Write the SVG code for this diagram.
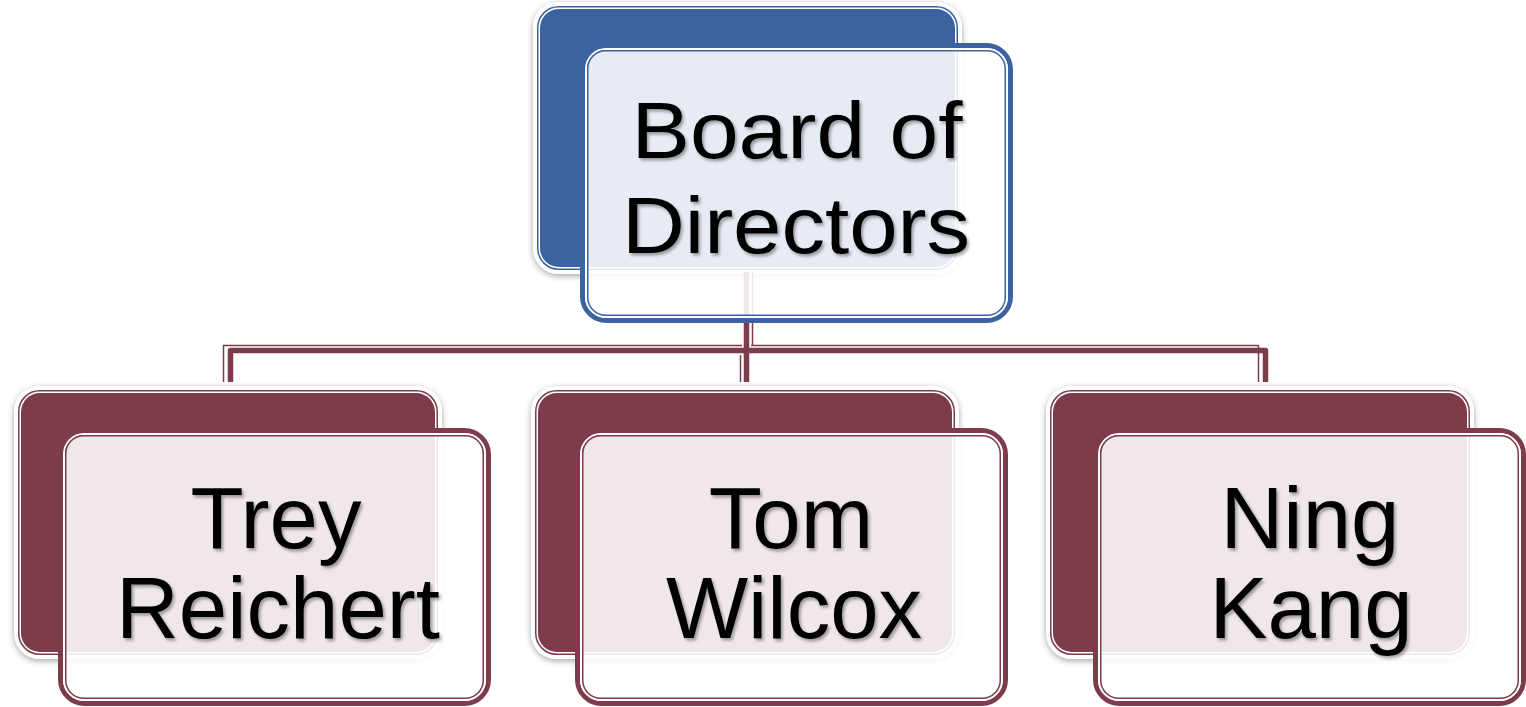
<svg xmlns="http://www.w3.org/2000/svg" width="1526" height="707" viewBox="0 0 1526 707">
<defs>
<filter id="sh" x="-10%" y="-10%" width="120%" height="125%">
<feDropShadow dx="0" dy="2" stdDeviation="3" flood-color="#000" flood-opacity="0.35"/>
</filter>
<filter id="tsh" x="-5%" y="-5%" width="110%" height="120%">
<feDropShadow dx="2" dy="2.5" stdDeviation="1.5" flood-color="#000" flood-opacity="0.35"/>
</filter>
<style>
.halo{fill:#fff;stroke:#fff;stroke-width:8}
.bl .line{fill:none;stroke:#3A63A0;stroke-width:1.5}
.bl .body{fill:#3A63A0}
.bl .thick{fill:none;stroke:#3A63A0;stroke-width:5}
.bl .thin{fill:#fff;fill-opacity:0.88;stroke:#3A63A0;stroke-width:1.5}
.mr .line{fill:none;stroke:#7C3C4A;stroke-width:1.5}
.mr .body{fill:#7C3C4A}
.mr .thick{fill:none;stroke:#7C3C4A;stroke-width:5}
.mr .thin{fill:#fff;fill-opacity:0.88;stroke:#7C3C4A;stroke-width:1.5}
.gap{fill:none;stroke:#fff;stroke-width:2}
.conn path{fill:none;stroke:#7C3C4A;stroke-linejoin:round}
.conn .ct{stroke-width:5.5}
.conn .cn{stroke-width:1.5}
text{font-family:"Liberation Sans",Arial,sans-serif;fill:#000;text-anchor:middle}
</style>
</defs>
<rect width="1526" height="707" fill="#fff"/>

<!-- top node back shape -->
<g id="board-back" class="bl">
<rect class="halo" x="537" y="6" width="421" height="264" rx="22" filter="url(#sh)"/>
<rect class="line" x="537.75" y="6.75" width="419.5" height="262.5" rx="21"/>
<rect class="body" x="540" y="9" width="415" height="258" rx="19"/>
</g>

<g id="connectors" class="conn">
<path class="ct" d="M746.5,272 V350.5"/>
<path class="cn" d="M752.5,272 V345.5"/>
<path class="ct" d="M230.5,382 V350.5 H1265.5 V382"/>
<path class="cn" d="M223.5,382 V345.5 H742"/>
<path class="cn" d="M751,345.5 H1258.5 V382"/>
<path class="ct" d="M746.5,350 V382"/>
<path class="cn" d="M740.5,355 V382"/>
</g>

<g id="board" class="bl">
<rect class="thick" x="582.5" y="45.5" width="428" height="275" rx="24"/>
<rect class="gap" x="586" y="49" width="421" height="268" rx="20"/>
<rect class="thin" x="587.75" y="50.75" width="417.5" height="264.5" rx="18"/>
<g filter="url(#tsh)">
<text x="797" y="158" font-size="79" textLength="331" lengthAdjust="spacingAndGlyphs">Board of</text>
<text x="796" y="253" font-size="79" textLength="348" lengthAdjust="spacingAndGlyphs">Directors</text>
</g>
</g>

<g id="trey" class="mr">
<rect class="halo" x="18" y="390" width="420" height="265" rx="22" filter="url(#sh)"/>
<rect class="line" x="18.75" y="390.75" width="418.5" height="263.5" rx="21"/>
<rect class="body" x="21" y="393" width="414" height="259" rx="19"/>
<rect class="thick" x="60.5" y="430.5" width="428" height="273" rx="24"/>
<rect class="gap" x="64" y="434" width="421" height="266" rx="20"/>
<rect class="thin" x="65.75" y="435.75" width="417.5" height="262.5" rx="18"/>
<g filter="url(#tsh)">
<text x="276" y="548" font-size="87">Trey</text>
<text x="278" y="638" font-size="87">Reichert</text>
</g>
</g>

<g id="tom" class="mr">
<rect class="halo" x="535" y="390" width="420" height="265" rx="22" filter="url(#sh)"/>
<rect class="line" x="535.75" y="390.75" width="418.5" height="263.5" rx="21"/>
<rect class="body" x="538" y="393" width="414" height="259" rx="19"/>
<rect class="thick" x="577.5" y="430.5" width="428" height="273" rx="24"/>
<rect class="gap" x="581" y="434" width="421" height="266" rx="20"/>
<rect class="thin" x="582.75" y="435.75" width="417.5" height="262.5" rx="18"/>
<g filter="url(#tsh)">
<text x="791" y="548" font-size="87">Tom</text>
<text x="794" y="638" font-size="87">Wilcox</text>
</g>
</g>

<g id="ning" class="mr">
<rect class="halo" x="1050" y="390" width="420" height="265" rx="22" filter="url(#sh)"/>
<rect class="line" x="1050.75" y="390.75" width="418.5" height="263.5" rx="21"/>
<rect class="body" x="1053" y="393" width="414" height="259" rx="19"/>
<rect class="thick" x="1095.5" y="430.5" width="428" height="273" rx="24"/>
<rect class="gap" x="1099" y="434" width="421" height="266" rx="20"/>
<rect class="thin" x="1100.75" y="435.75" width="417.5" height="262.5" rx="18"/>
<g filter="url(#tsh)">
<text x="1310" y="548" font-size="87">Ning</text>
<text x="1311" y="638" font-size="87">Kang</text>
</g>
</g>
</svg>
